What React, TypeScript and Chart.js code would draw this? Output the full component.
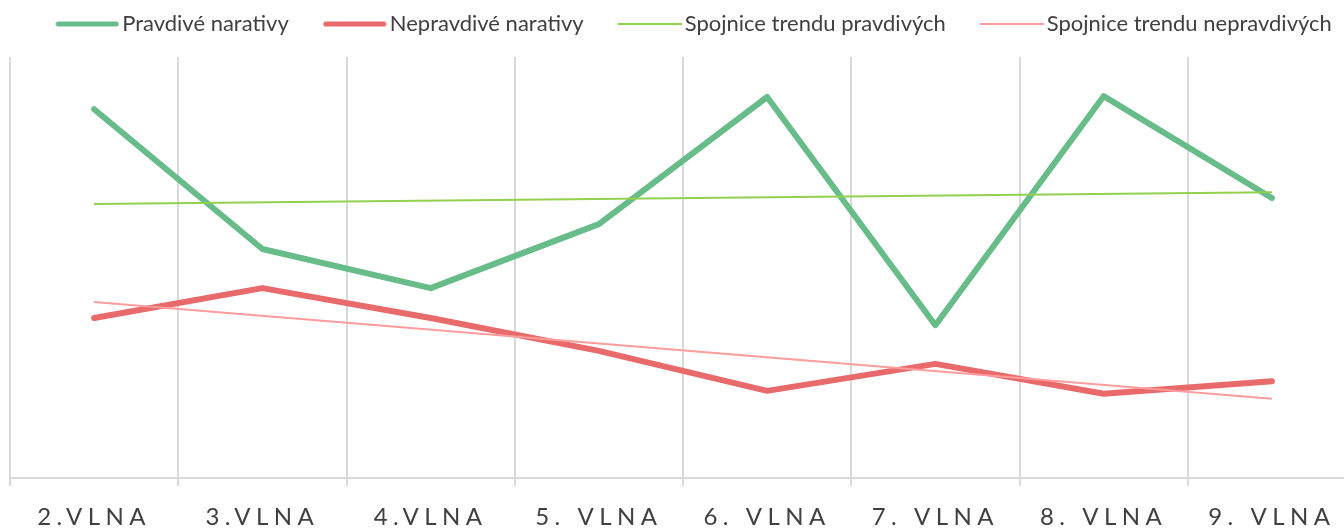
import React, { useEffect, useRef } from 'react';
import { Chart, registerables } from 'chart.js';

Chart.register(...registerables);

const categories = ['2.VLNA', '3.VLNA', '4.VLNA', '5. VLNA', '6. VLNA', '7. VLNA', '8. VLNA', '9. VLNA'];
const seriesNames = ['Pravdivé narativy', 'Nepravdivé narativy', 'Spojnice trendu pravdivých', 'Spojnice trendu nepravdivých'];
const pravdive = [87.6, 54.4, 45.1, 60.3, 90.5, 36.3, 90.7, 66.5];
const nepravdive = [38.0, 45.1, 38.0, 30.2, 20.7, 27.1, 20.0, 23.0];
const trendPravdive = [65.1, null, null, null, null, null, null, 67.9];
const trendNepravdive = [41.8, null, null, null, null, null, null, 18.8];
const colors = ['#68BC8A', '#E96A6A', '#92D050', '#FF9C9C'];
const widths = [6, 6, 2, 2];

const CANVAS_W = 1400;
const CANVAS_H = 548;
const LEGEND_FONT = 22;
const LEGEND_PAD = 42;
const LEGEND_DX = -2.5;
const LEGEND_DY = 24 - (LEGEND_PAD + LEGEND_FONT / 2);

function makeSwatch(color: string, width: number, round: boolean) {
  const c = document.createElement('canvas');
  c.width = 64;
  c.height = 8;
  const g = c.getContext('2d')!;
  g.strokeStyle = color;
  g.lineWidth = width;
  g.lineCap = round ? 'round' : 'butt';
  g.beginPath();
  if (round) {
    g.moveTo(3, 4);
    g.lineTo(61, 4);
  } else {
    g.moveTo(0, 4);
    g.lineTo(64, 4);
  }
  g.stroke();
  return c;
}

const legendShift = {
  id: 'legendShift',
  afterLayout(chart: any) {
    const lg = chart.legend;
    if (!lg) return;
    lg.left += LEGEND_DX;
    lg.right += LEGEND_DX;
    lg.top += LEGEND_DY;
  },
};

const tickSpacing = {
  id: 'tickSpacing',
  afterDatasetsDraw(chart: any) {
    (chart.ctx as any).letterSpacing = '5.5px';
  },
  afterDraw(chart: any) {
    (chart.ctx as any).letterSpacing = '0px';
  },
};

export default function App() {
  const ref = useRef<HTMLCanvasElement | null>(null);

  useEffect(() => {
    if (!ref.current) return;
    const swatches = [
      makeSwatch(colors[0], 5, true),
      makeSwatch(colors[1], 5, true),
      makeSwatch(colors[2], 2, false),
      makeSwatch(colors[3], 2, false),
    ];
    const dataArrays = [pravdive, nepravdive, trendPravdive, trendNepravdive];
    const chart = new Chart(ref.current, {
      type: 'line',
      data: {
        labels: categories,
        datasets: dataArrays.map((d, i) => ({
          label: seriesNames[i],
          data: d,
          borderColor: colors[i],
          backgroundColor: colors[i],
          borderWidth: widths[i],
          pointRadius: 0,
          pointHoverRadius: 0,
          tension: 0,
          spanGaps: true,
          fill: false,
          borderCapStyle: i < 2 ? 'round' : 'butt',
          borderJoinStyle: 'round',
          yAxisID: 'y',
          order: i < 2 ? 1 + (1 - i) : 0,
        })) as any,
      },
      options: {
        animation: false,
        responsive: false,
        devicePixelRatio: 1,
        layout: { padding: 0 },
        plugins: {
          tooltip: { enabled: false },
          legend: {
            position: 'top',
            align: 'center',
            maxHeight: 57,
            labels: {
              usePointStyle: true,
              pointStyleWidth: 48,
              padding: LEGEND_PAD,
              color: '#404040',
              font: { family: 'Lato', size: LEGEND_FONT },
              generateLabels: (c: any) =>
                c.data.datasets.map((ds: any, i: number) => ({
                  text: ds.label,
                  fillStyle: ds.borderColor,
                  strokeStyle: ds.borderColor,
                  lineWidth: 1,
                  pointStyle: swatches[i],
                  hidden: false,
                  datasetIndex: i,
                  fontColor: '#404040',
                })),
            },
          },
        },
        scales: {
          x: {
            type: 'category',
            offset: true,
            grid: {
              display: true,
              offset: true,
              color: '#d9d9d9',
              lineWidth: 2,
              drawTicks: true,
              tickLength: 8,
            },
            border: { display: true, color: '#d9d9d9', width: 2 },
            ticks: {
              z: 1,
              padding: 19,
              maxRotation: 0,
              autoSkip: false,
              color: '#404040',
              font: { family: 'Lato', size: 24, lineHeight: 1.0 },
            },
          },
          y: {
            type: 'linear',
            position: 'left',
            min: 0,
            max: 100,
            display: true,
            grid: { display: false },
            border: { display: false },
            ticks: { display: false },
            afterFit: (s: any) => {
              s.width = 10;
            },
          },
          y2: {
            type: 'linear',
            position: 'right',
            min: 0,
            max: 100,
            display: true,
            grid: { display: false },
            border: { display: false },
            ticks: { display: false },
            afterFit: (s: any) => {
              s.width = CANVAS_W - 1356;
            },
          },
        },
      } as any,
      plugins: [legendShift, tickSpacing],
    });
    return () => chart.destroy();
  }, []);

  return (
    <div
      style={{
        position: 'fixed',
        left: 0,
        top: 0,
        width: 1344,
        height: 528,
        overflow: 'hidden',
        background: '#ffffff',
      }}
    >
      <canvas ref={ref} width={CANVAS_W} height={CANVAS_H} style={{ display: 'block' }} />
    </div>
  );
}
